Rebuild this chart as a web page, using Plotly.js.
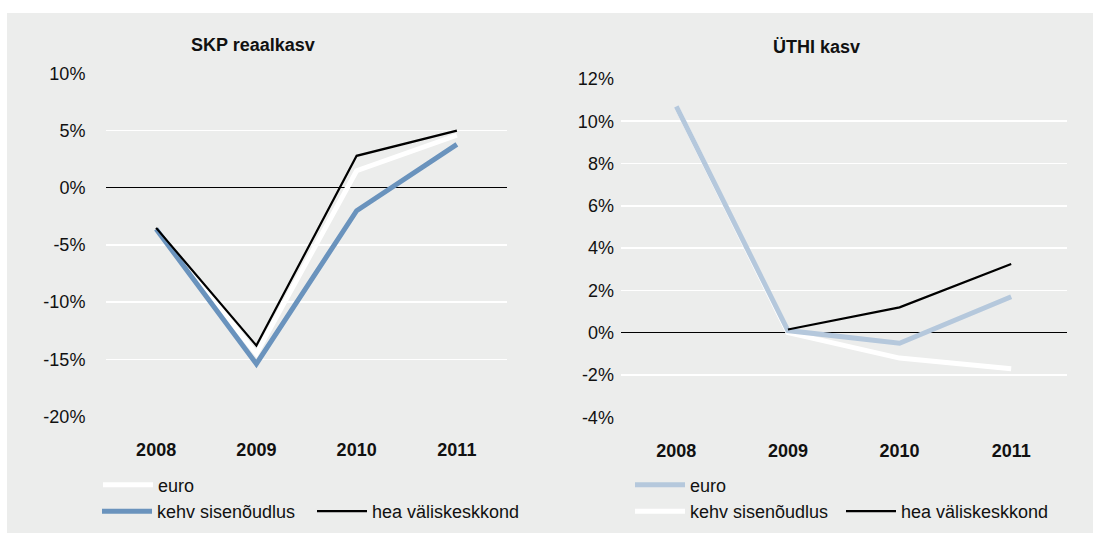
<!DOCTYPE html>
<html>
<head>
<meta charset="utf-8">
<script src="https://cdn.plot.ly/plotly-3.0.1.min.js"></script>
<style>html,body{margin:0;padding:0;background:#fff;}#chart{width:1093px;height:533px;}</style>
</head>
<body>
<div id="chart"></div>
<script>
// Categories
const years = ['2008', '2009', '2010', '2011'];

// SKP reaalkasv (%)
const gdpEuro = [-3.6, -14.5, 1.5, 4.6];
const gdpWeakDemand = [-3.6, -15.4, -2.0, 3.8];
const gdpGoodExternal = [-3.5, -13.8, 2.8, 5.0];

// ÜTHI kasv (%)
const hicpEuro = [10.7, 0.1, -0.5, 1.7];
const hicpWeakDemand = [10.7, 0.0, -1.2, -1.7];
const hicpGoodExternal = [null, 0.15, 1.2, 3.25];

// Tick labels
const gdpTickVals = [-20, -15, -10, -5, 0, 5, 10];
const gdpTickText = ['-20%', '-15%', '-10%', '-5%', '0%', '5%', '10%'];
const hicpTickVals = [-4, -2, 0, 2, 4, 6, 8, 10, 12];
const hicpTickText = ['-4%', '-2%', '0%', '2%', '4%', '6%', '8%', '10%', '12%'];

const names = ['euro', 'kehv sisenõudlus', 'hea väliskeskkond'];
const titles = ['SKP reaalkasv', 'ÜTHI kasv'];

const W = 1093, H = 533;
const px = v => v / W;
const py = v => 1 - v / H;

const FONT = 'Liberation Sans, Arial, Helvetica, sans-serif';
const BLUE = '#6a93bd';
const LIGHTBLUE = '#b5c8dc';
const BG = '#ecedec';

const traces = [
  {x: years, y: gdpEuro, name: names[0], type: 'scatter', mode: 'lines',
   line: {color: '#ffffff', width: 5}, xaxis: 'x', yaxis: 'y', legend: 'legend'},
  {x: years, y: gdpWeakDemand, name: names[1], type: 'scatter', mode: 'lines',
   line: {color: BLUE, width: 5}, xaxis: 'x', yaxis: 'y', legend: 'legend2'},
  {x: years, y: gdpGoodExternal, name: names[2], type: 'scatter', mode: 'lines',
   line: {color: '#000000', width: 2.2}, xaxis: 'x', yaxis: 'y', legend: 'legend3'},
  {x: years, y: hicpWeakDemand, name: names[1], type: 'scatter', mode: 'lines',
   line: {color: '#ffffff', width: 5}, xaxis: 'x2', yaxis: 'y2', legend: 'legend5'},
  {x: years, y: hicpEuro, name: names[0], type: 'scatter', mode: 'lines',
   line: {color: LIGHTBLUE, width: 5}, xaxis: 'x2', yaxis: 'y2', legend: 'legend4'},
  {x: years, y: hicpGoodExternal, name: names[2], type: 'scatter', mode: 'lines',
   line: {color: '#000000', width: 2.2}, xaxis: 'x2', yaxis: 'y2', legend: 'legend6'}
];

const xCommon = {
  type: 'category', range: [-0.5, 3.5], showgrid: false, zeroline: false,
  showline: false, ticks: 'outside', ticklen: 17, tickcolor: 'rgba(0,0,0,0)',
  tickfont: {family: FONT, size: 18, color: '#111', weight: 'bold'}, fixedrange: true
};
const yCommon = {
  showgrid: true, gridcolor: '#ffffff', gridwidth: 1.5,
  zeroline: true, zerolinecolor: '#000000', zerolinewidth: 1,
  showline: false, ticks: 'outside', tickcolor: 'rgba(0,0,0,0)',
  tickfont: {family: FONT, size: 18, color: '#111'}, fixedrange: true
};

const legendCommon = {
  orientation: 'h', xanchor: 'left', yanchor: 'middle', bgcolor: 'rgba(0,0,0,0)',
  borderwidth: 0, itemwidth: 50, font: {family: FONT, size: 18, color: '#111'},
  itemclick: false, itemdoubleclick: false
};

const layout = {
  width: W, height: H,
  margin: {l: 0, r: 0, t: 0, b: 0},
  paper_bgcolor: '#ffffff',
  plot_bgcolor: BG,
  showlegend: true,
  font: {family: FONT, size: 18, color: '#111'},
  xaxis: Object.assign({}, xCommon, {domain: [px(106), px(507)], anchor: 'y'}),
  yaxis: Object.assign({}, yCommon, {domain: [py(416.5), py(73.5)], anchor: 'x',
    range: [-20, 10], tickvals: gdpTickVals, ticktext: gdpTickText, ticklen: 16}),
  xaxis2: Object.assign({}, xCommon, {domain: [px(620.5), px(1067)], anchor: 'y2'}),
  yaxis2: Object.assign({}, yCommon, {domain: [py(417.3), py(78.9)], anchor: 'x2',
    range: [-4, 12], tickvals: hicpTickVals, ticktext: hicpTickText, ticklen: 2}),
  legend: Object.assign({}, legendCommon, {x: px(98), y: py(485)}),
  legend2: Object.assign({}, legendCommon, {x: px(97), y: py(511.5)}),
  legend3: Object.assign({}, legendCommon, {x: px(312), y: py(511.5)}),
  legend4: Object.assign({}, legendCommon, {x: px(630), y: py(485)}),
  legend5: Object.assign({}, legendCommon, {x: px(630), y: py(511.5)}),
  legend6: Object.assign({}, legendCommon, {x: px(841), y: py(511.5)}),
  shapes: [
    {type: 'rect', xref: 'paper', yref: 'paper', x0: px(7), x1: 1, y0: 0, y1: py(13),
     fillcolor: BG, line: {width: 0}, layer: 'below'}
  ],
  annotations: [
    {text: titles[0], xref: 'paper', yref: 'paper', x: px(253), y: py(45),
     xanchor: 'center', yanchor: 'middle', showarrow: false,
     font: {family: FONT, size: 18, color: '#111', weight: 'bold'}},
    {text: titles[1], xref: 'paper', yref: 'paper', x: px(816), y: py(47),
     xanchor: 'center', yanchor: 'middle', showarrow: false,
     font: {family: FONT, size: 18, color: '#111', weight: 'bold'}}
  ]
};

Plotly.newPlot('chart', traces, layout, {displayModeBar: false, staticPlot: true});
</script>
</body>
</html>
